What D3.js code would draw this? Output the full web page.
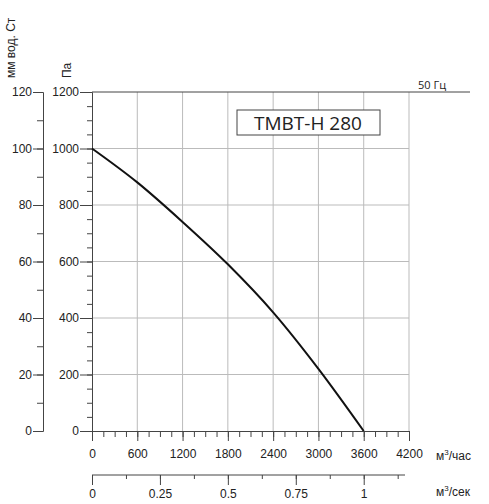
<!DOCTYPE html>
<html><head><meta charset="utf-8">
<script src="https://cdn.jsdelivr.net/npm/d3@7"></script>
<style>body{margin:0;background:#fff}text{font-family:"Liberation Sans",Arial,sans-serif;fill:#222}</style>
</head><body><div id="chart"></div>
<script>
const flow = [0, 600, 1200, 1800, 2400, 3000, 3600];
const pressure = [1000, 880, 740, 590, 420, 220, 0];
const flowTicks = [0, 600, 1200, 1800, 2400, 3000, 3600, 4200];
const paTicks = [0, 200, 400, 600, 800, 1000, 1200];
const mmTicks = [0, 20, 40, 60, 80, 100, 120];
const secTicks = [0, 0.25, 0.5, 0.75, 1];

const svg = d3.select("#chart").append("svg").attr("width", 489).attr("height", 504);
const x = d3.scaleLinear().domain([0, 4200]).range([92, 409]);
const y = d3.scaleLinear().domain([0, 1200]).range([431, 92]);
const ymm = d3.scaleLinear().domain([0, 120]).range([431, 92]);
const xs = d3.scaleLinear().domain([0, 1]).range([92, x(3600)]);
const plain = d3.format("");

// grid
svg.append("g").selectAll("line").data(flowTicks.slice(1)).enter().append("line")
  .attr("x1", d => x(d)).attr("x2", d => x(d)).attr("y1", 92).attr("y2", 431)
  .attr("stroke", "#bbb");
svg.append("g").selectAll("line").data(paTicks.slice(1)).enter().append("line")
  .attr("x1", 92).attr("x2", 409).attr("y1", d => y(d)).attr("y2", d => y(d))
  .attr("stroke", d => d === 1200 ? "#444" : "#bbb");

function styleAxis(g) {
  g.select(".domain").attr("stroke", "#444");
  g.selectAll(".tick line").attr("stroke", "#444");
  g.selectAll("text").style("font-size", "12px").style("font-family", "Liberation Sans, Arial");
}

// Pa axis
svg.append("g").attr("transform", "translate(92,0)")
  .call(d3.axisLeft(y).tickValues(d3.range(0, 1201, 50)).tickSize(5).tickSizeOuter(0).tickFormat(""))
  .call(styleAxis);
svg.append("g").attr("transform", "translate(92,0)")
  .call(d3.axisLeft(y).tickValues(paTicks).tickSize(12).tickSizeOuter(0).tickPadding(1).tickFormat(plain))
  .call(styleAxis);
// mm axis
svg.append("g").attr("transform", "translate(43,0)")
  .call(d3.axisLeft(ymm).tickValues(d3.range(0, 121, 10)).tickSize(6).tickSizeOuter(0).tickFormat(""))
  .call(styleAxis);
svg.append("g").attr("transform", "translate(43,0)")
  .call(d3.axisLeft(ymm).tickValues(mmTicks).tickSize(10).tickSizeOuter(0).tickPadding(1).tickFormat(plain))
  .call(styleAxis);
// flow axis
svg.append("g").attr("transform", "translate(0,431)")
  .call(d3.axisBottom(x).tickValues(d3.range(0, 4201, 150)).tickSize(6).tickSizeOuter(0).tickFormat(""))
  .call(styleAxis);
svg.append("g").attr("transform", "translate(0,431)")
  .call(d3.axisBottom(x).tickValues(flowTicks).tickSize(10).tickSizeOuter(0).tickPadding(8).tickFormat(plain))
  .call(styleAxis);
// m3/sec axis
svg.append("line").attr("x1", 92).attr("x2", 405).attr("y1", 475).attr("y2", 475).attr("stroke", "#444");
svg.append("g").attr("transform", "translate(0,475)")
  .call(d3.axisBottom(xs).tickValues(d3.range(0, 1.13, 0.125)).tickSize(4).tickSizeOuter(0).tickFormat(""))
  .call(styleAxis).select(".domain").remove();
svg.append("g").attr("transform", "translate(0,475)")
  .call(d3.axisBottom(xs).tickValues(secTicks).tickSize(10).tickSizeOuter(0).tickPadding(4).tickFormat(plain))
  .call(styleAxis).select(".domain").remove();

// units
svg.append("text").attr("x", 436).attr("y", 460).style("font-size", "12px").html('м<tspan dy="-5" font-size="8">3</tspan><tspan dy="5">/час</tspan>');
svg.append("text").attr("x", 436).attr("y", 496).style("font-size", "12px").html('м<tspan dy="-5" font-size="8">3</tspan><tspan dy="5">/сек</tspan>');
svg.append("text").attr("transform", "translate(15,78) rotate(-90)").style("font-size", "12px").text("мм вод. Ст");
svg.append("text").attr("transform", "translate(71,78) rotate(-90)").style("font-size", "12px").text("Па");
svg.append("text").attr("x", 418).attr("y", 89).style("font-size", "11px").style("font-family", "Open Sans").text("50 Гц");
svg.append("line").attr("x1", 409).attr("x2", 470).attr("y1", 92).attr("y2", 92).attr("stroke", "#444");

// title box
svg.append("rect").attr("x", 237).attr("y", 110).attr("width", 143).attr("height", 25)
  .attr("fill", "#fff").attr("stroke", "#444");
svg.append("text").attr("x", 308).attr("y", 130).attr("text-anchor", "middle")
  .style("font-size", "19px").style("font-family", "Open Sans").text("ТМВТ-Н 280");

// curve
const pts = flow.map((f, i) => [f, pressure[i]]);
svg.append("path").datum(pts)
  .attr("d", d3.line().x(d => x(d[0])).y(d => y(d[1])).curve(d3.curveMonotoneX))
  .attr("fill", "none").attr("stroke", "#111").attr("stroke-width", 2);
</script></body></html>
